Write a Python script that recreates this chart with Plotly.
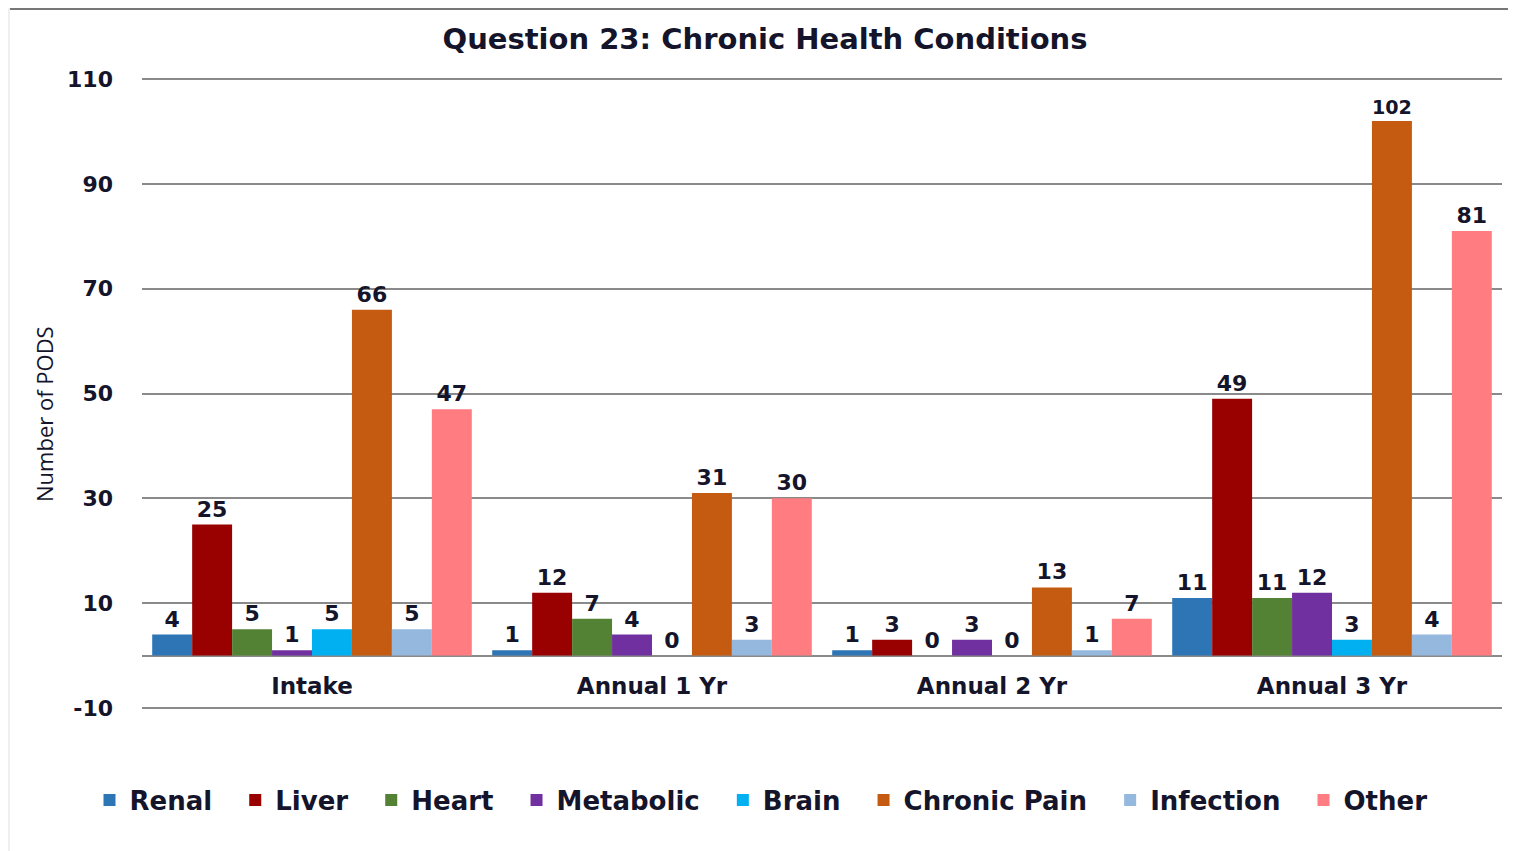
import plotly.graph_objects as go

categories = ["Intake", "Annual 1 Yr", "Annual 2 Yr", "Annual 3 Yr"]
series_names = ["Renal", "Liver", "Heart", "Metabolic", "Brain", "Chronic Pain", "Infection", "Other"]
renal = [4, 1, 1, 11]
liver = [25, 12, 3, 49]
heart = [5, 7, 0, 11]
metabolic = [1, 4, 3, 12]
brain = [5, 0, 0, 3]
chronic_pain = [66, 31, 13, 102]
infection = [5, 3, 1, 4]
other = [47, 30, 7, 81]
series_values = [renal, liver, heart, metabolic, brain, chronic_pain, infection, other]
colors = ["#2E75B6", "#990000", "#548235", "#7030A0", "#00B0F0", "#C55A11", "#95B8DE", "#FF7C80"]
y_ticks = [-10, 10, 30, 50, 70, 90, 110]
y_tick_text = ["-10", "10", "30", "50", "70", "90", "110"]

TXT = "#14142a"
BOLD = "DejaVu Sans"
PAD = "\u00a0\u00a0"

fig = go.Figure()
for name, vals, col in zip(series_names, series_values, colors):
    fig.add_trace(go.Bar(
        x=categories, y=vals, name=name + PAD,
        marker=dict(color=col, line=dict(width=0)),
        text=[str(v) for v in vals], textposition="outside",
        textfont=dict(family=BOLD, size=22, color=TXT, weight="bold"),
        cliponaxis=False,
    ))

# page is rendered with an 8px body margin
OFF = 8
PAGE_W, PAGE_H = 1516, 851
W, H = PAGE_W - OFF, PAGE_H - OFF
yr = [-10.2, 110.2]
ml, mr, mt, mb = 142 - OFF, 14, 78 - OFF, PAGE_H - 709
pw, ph = W - ml - mr, H - mt - mb

def px_x(xpage):
    return (xpage - OFF - ml) / pw

def px_y(ypage):
    return 1 - (ypage - OFF - mt) / ph

fig.update_layout(
    width=W, height=H,
    margin=dict(l=ml, r=mr, t=mt, b=mb),
    paper_bgcolor="white", plot_bgcolor="white",
    barmode="group", bargap=0.06, bargroupgap=0,
    title=dict(text="<b>Question 23: Chronic Health Conditions</b>",
               x=(765 - OFF) / W, xanchor="center", xref="container",
               y=1 - (39 - OFF) / H, yanchor="middle", yref="container",
               font=dict(family=BOLD, size=29, color=TXT)),
    yaxis=dict(range=yr, tickvals=y_ticks, ticktext=y_tick_text, showgrid=True,
               gridcolor="#8a8a8a", gridwidth=1.5,
               zeroline=True, zerolinecolor="#8a8a8a", zerolinewidth=2,
               tickfont=dict(family=BOLD, size=22, color=TXT, weight="bold"),
               ticklabelstandoff=28),
    xaxis=dict(anchor="free", position=(0 - yr[0]) / (yr[1] - yr[0]), showline=False, ticks="",
               tickfont=dict(family=BOLD, size=23, color=TXT, weight="bold"),
               ticklabelstandoff=14),
    legend=dict(orientation="h", x=px_x(770), xanchor="center",
                y=px_y(800), yanchor="middle",
                font=dict(family=BOLD, size=26, color=TXT, weight="bold"),
                tracegroupgap=0),
    annotations=[
        dict(text="Number of PODS", textangle=-90, showarrow=False,
             xref="paper", yref="paper", x=px_x(44), y=px_y(414),
             xanchor="center", yanchor="middle",
             font=dict(family="Open Sans", size=22, color=TXT)),
    ],
    shapes=[
        dict(type="rect", xref="paper", yref="paper", x0=px_x(OFF), x1=px_x(10),
             y0=px_y(PAGE_H), y1=px_y(OFF), fillcolor="#efefef", line=dict(width=0), layer="below"),
        dict(type="line", xref="paper", yref="paper", x0=px_x(10), x1=px_x(PAGE_W),
             y0=px_y(9), y1=px_y(9), line=dict(color="#777777", width=2)),
    ],
)

fig.write_html("out.html")
